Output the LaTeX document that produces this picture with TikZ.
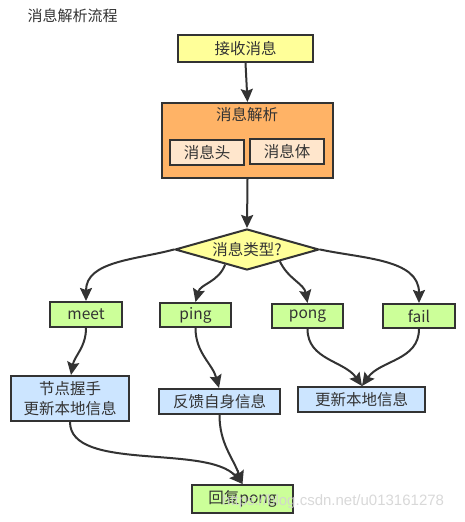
\documentclass[tikz,border=0pt]{standalone}
\usepackage{fontspec}
\setmainfont{Noto Sans CJK SC}
\newfontfamily\wmfont{Liberation Sans}
\usetikzlibrary{shapes.geometric,arrows.meta,calc}
\definecolor{edge}{HTML}{333333}
\definecolor{cyellow}{HTML}{FFFF99}
\definecolor{corange}{HTML}{FFB366}
\definecolor{cpeach}{HTML}{FFE6CC}
\definecolor{cgreen}{HTML}{CCFF99}
\definecolor{cblue}{HTML}{CCE5FF}
\tikzset{
  box/.style={draw=edge, line width=2pt, inner sep=0pt, font=\fontsize{15.5}{18}\selectfont, text=edge, align=center},
  conn/.style={draw=edge, line width=2pt, -{Stealth[length=13pt,width=12pt,inset=2pt]}},
}
\begin{document}
\begin{tikzpicture}[x=1pt,y=-1pt]
\useasboundingbox (0,0) rectangle (464,522);
\fill[white] (0,0) rectangle (464,522);
\node[text=edge, font=\fontsize{15}{17}\selectfont, anchor=west] (title) at (24,16) {消息解析流程};

\node[box, fill=cyellow, minimum width=135pt, minimum height=27pt] (recv) at (245.5,48.5) {接收消息};
\node[box, fill=corange, minimum width=171pt, minimum height=75pt] (parse) at (247.5,140.5) {};
\node[text=edge, font=\fontsize{15.5}{18}\selectfont] (parsel) at (247,115) {消息解析};
\node[box, fill=cpeach, minimum width=74pt, minimum height=25pt] (head) at (207,152.5) {消息头};
\node[box, fill=cpeach, minimum width=74pt, minimum height=25pt] (body) at (287,151.5) {消息体};

\node[box, shape=diamond, fill=cyellow, minimum width=144pt, minimum height=41pt, aspect=3.5] (type) at (247,249.5) {消息类型?};

\node[box, fill=cgreen, minimum width=72pt, minimum height=25pt] (meet) at (86,314.5) {meet};
\node[box, fill=cgreen, minimum width=71pt, minimum height=24pt] (ping) at (195.5,315) {ping};
\node[box, fill=cgreen, minimum width=71pt, minimum height=24pt] (pong) at (307.5,316) {pong};
\node[box, fill=cgreen, minimum width=72pt, minimum height=24pt] (fail) at (419,316) {fail};

\node[box, fill=cblue, minimum width=118pt, minimum height=45pt, font=\fontsize{15.5}{20}\selectfont] (shake) at (70,398.5) {节点握手\\更新本地信息};
\node[box, fill=cblue, minimum width=121pt, minimum height=25pt] (feed) at (219.5,401.5) {反馈自身信息};
\node[box, fill=cblue, minimum width=127pt, minimum height=25pt] (update) at (361.5,399.5) {更新本地信息};
\node[box, fill=cgreen, minimum width=101pt, minimum height=28pt] (reply) at (242.5,499) {回复pong};

\coordinate (tl) at ($(type.west)!0.7!(type.south)$);
\coordinate (tr) at ($(type.east)!0.55!(type.south)$);
\coordinate (ujoin) at ([xshift=0.5pt]update.north);
\coordinate (rjoin) at (reply.north);

\draw[conn] (recv.south) -- (parse.north);
\draw[conn] (parse.south) -- (type.north);
\draw[conn] (type.west) to[out=195,in=90] (meet.north);
\draw[conn] (tl) to[out=-110,in=75] (ping.north);
\draw[conn] (tr) to[out=-65,in=100] (pong.north);
\draw[conn] (type.east) to[out=-12,in=90] (fail.north);
\draw[conn] (meet.south) to[out=-90,in=80] ([xshift=1pt]shake.north);
\draw[conn] (ping.south) to[out=-90,in=105] ([xshift=-0.5pt]feed.north);
\draw[conn] (pong.south) to[out=-90,in=125] (ujoin);
\draw[conn] (fail.south) to[out=-90,in=55] (ujoin);
\draw[conn] (shake.south) .. controls +(0,50) and +(-35,-40) .. (rjoin);
\draw[conn] (feed.south) to[out=-90,in=110] (rjoin);

\node[text=gray!35, opacity=0.85, font=\wmfont\fontsize{15}{18}\selectfont, anchor=west, inner sep=0pt] (wm) at (222,502) {https://blog.csdn.net/u013161278};
\end{tikzpicture}
\end{document}
